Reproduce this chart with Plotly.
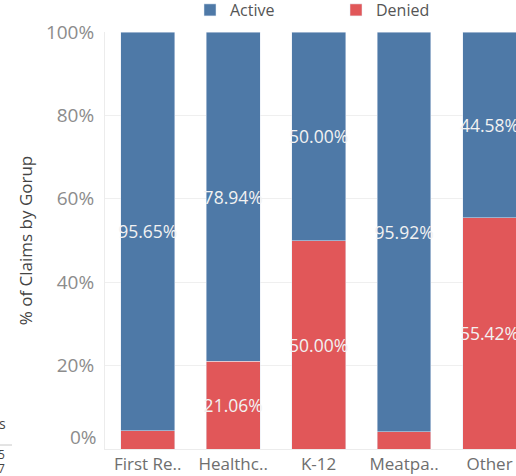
import plotly.graph_objects as go

# Claim status share per group (percent of claims in each group)
groups = ["First Re..", "Healthc..", "K-12", "Meatpa..", "Other"]
active_pct = [95.65, 78.94, 50.00, 95.92, 44.58]
denied_pct = [4.35, 21.06, 50.00, 4.08, 55.42]
y_ticks = [20, 40, 60, 80, 100]

BLUE = "#4e79a7"
RED = "#e15759"
FONT = "Open Sans"

# pixel helpers for the fixed 516x476 canvas (plot area 105..516 x 32..449)
PL, PR, PT, PB = 105, 516, 32, 449


def px_x(px):
    return (px - PL) / (PR - PL)


def px_y(py):
    return (PB - py) / (PB - PT)


def seg_labels(values, min_show=10):
    # segments too thin to hold a label stay unlabeled
    return [f"{v:.2f}%" if v >= min_show else "" for v in values]


fig = go.Figure()
fig.add_trace(go.Bar(
    x=groups, y=denied_pct, name="Denied", marker_color=RED,
    text=seg_labels(denied_pct), textposition="inside",
    insidetextanchor="middle", textangle=0,
    textfont=dict(family=FONT, size=17.5, color="#f2f2f2"),
    legendrank=2,
))
fig.add_trace(go.Bar(
    x=groups, y=active_pct, name="Active", marker_color=BLUE,
    text=seg_labels(active_pct), textposition="inside",
    insidetextanchor="middle", textangle=0,
    textfont=dict(family=FONT, size=17.5, color="#f2f2f2"),
    legendrank=1,
))

fig.update_layout(
    width=516, height=476,
    margin=dict(l=PL, r=516 - PR, t=PT, b=476 - PB, autoexpand=False),
    barmode="stack", bargap=0.37,
    plot_bgcolor="white", paper_bgcolor="white",
    font=dict(family=FONT, color="#555555"),
    uniformtext=dict(mode="show", minsize=17),
    legend=dict(
        orientation="h", x=px_x(190), xanchor="left", y=px_y(-7), yanchor="top",
        font=dict(family=FONT, size=16, color="#555555"),
        entrywidth=101, traceorder="normal",
        bgcolor="rgba(0,0,0,0)",
    ),
    xaxis=dict(
        range=[-0.5, 4.31], showgrid=False, zeroline=False,
        showline=True, linecolor="#ececec", linewidth=1,
        tickfont=dict(family=FONT, size=17, color="#6e6e6e"),
        ticks="",
    ),
    yaxis=dict(
        range=[0, 100], tickvals=y_ticks,
        ticktext=[f"{v}%" for v in y_ticks],
        tickfont=dict(family=FONT, size=19, color="#8c8c8c"),
        showgrid=True, gridcolor="#efefef", zeroline=False,
        showline=True, linecolor="#ececec", linewidth=1,
        ticks="", ticklabelstandoff=6,
        title=dict(text="% of Claims by Gorup",
                   font=dict(family=FONT, size=17, color="#444444"),
                   standoff=8),
    ),
)

# baseline label sits just above the axis
fig.add_annotation(
    x=0, xref="paper", xanchor="right", xshift=-6,
    y=0, yref="y", yanchor="bottom", yshift=-3,
    text="0%", showarrow=False,
    font=dict(family=FONT, size=19, color="#8c8c8c"),
)

# edge of the neighbouring panel on the left
frag_font = dict(family=FONT, size=12, color="#444444")
fig.add_annotation(x=px_x(8), xref="paper", xanchor="right", y=px_y(423), yref="paper",
                   yanchor="middle", text="s", showarrow=False,
                   font=dict(family=FONT, size=14, color="#444444"))
fig.add_shape(type="line", xref="paper", yref="paper", x0=px_x(0), x1=px_x(12),
              y0=px_y(445), y1=px_y(445), line=dict(color="#c8c8c8", width=1))
fig.add_annotation(x=px_x(7), xref="paper", xanchor="right", y=px_y(455), yref="paper",
                   yanchor="middle", text="5", showarrow=False, font=frag_font)
fig.add_annotation(x=px_x(7), xref="paper", xanchor="right", y=px_y(469), yref="paper",
                   yanchor="middle", text="7", showarrow=False, font=frag_font)

fig.write_html("out.html")
